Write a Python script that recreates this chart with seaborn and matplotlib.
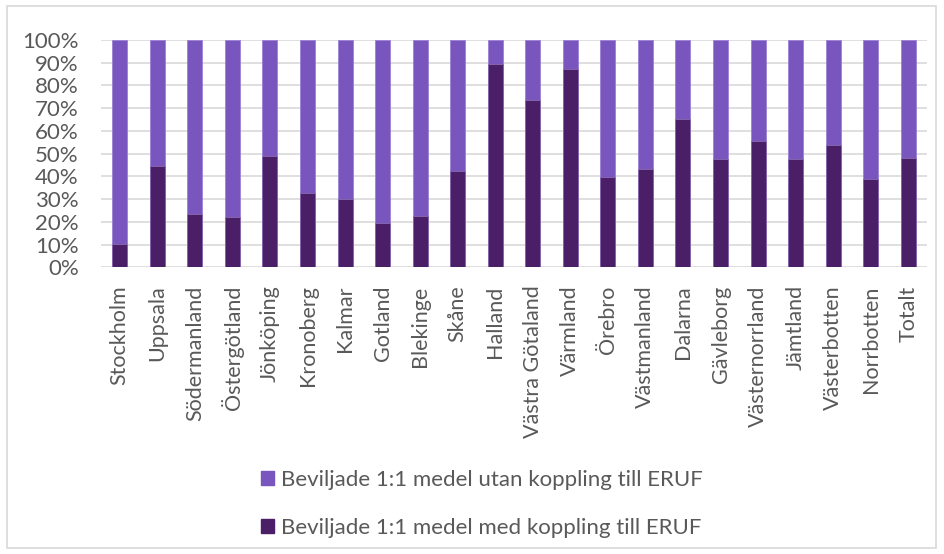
import matplotlib
matplotlib.use("Agg")
import matplotlib.pyplot as plt
import matplotlib.patches as mpatches
import seaborn as sns
import pandas as pd
import numpy as np
from matplotlib.ticker import FuncFormatter

regions = ["Stockholm", "Uppsala", "Södermanland", "Östergötland", "Jönköping",
           "Kronoberg", "Kalmar", "Gotland", "Blekinge", "Skåne", "Halland",
           "Västra Götaland", "Värmland", "Örebro", "Västmanland", "Dalarna",
           "Gävleborg", "Västernorrland", "Jämtland", "Västerbotten", "Norrbotten",
           "Totalt"]
med_eruf = [10.3, 44.7, 23.6, 22.3, 49.1, 32.8, 30.1, 19.6, 22.7, 42.5, 89.6,
            73.6, 87.1, 39.9, 43.1, 65.4, 47.8, 55.7, 47.8, 53.7, 39.0, 48.1]
utan_eruf = [100 - v for v in med_eruf]

label_utan = "Beviljade 1:1 medel utan koppling till ERUF"
label_med = "Beviljade 1:1 medel med koppling till ERUF"
c_light = "#7856BD"
c_dark = "#4A1F67"
txt = "#595959"

sns.set_theme(style="white")
plt.rcParams['font.family'] = ['Lato', 'DejaVu Sans']

df = pd.DataFrame({"region": regions, "med": med_eruf, "utan": utan_eruf})
df["total"] = df["med"] + df["utan"]

fig = plt.figure(figsize=(9.44, 5.54), dpi=100)
ax = fig.add_axes([0.107, 0.5175, 0.875, 0.4105])

sns.barplot(data=df, x="region", y="total", color=c_light, width=0.4,
            edgecolor="#9C82D6", linewidth=0.6, ax=ax, saturation=1, zorder=3)
sns.barplot(data=df, x="region", y="med", color=c_dark, width=0.4,
            edgecolor="#8A6AAE", linewidth=0.6, ax=ax, saturation=1, zorder=4)

ax.set_ylim(0, 100)
ax.set_xlim(-0.5, len(regions) - 0.5)
ax.set_yticks(np.arange(0, 101, 10))
ax.yaxis.set_major_formatter(FuncFormatter(lambda v, p: f"{int(v)}%"))
ax.grid(axis="y", color="#D9D9D9", linewidth=1.2, zorder=0)
ax.set_axisbelow(True)
for s in ax.spines.values():
    s.set_visible(False)
ax.set_xlabel("")
ax.set_ylabel("")
ax.tick_params(axis="y", labelsize=16, colors=txt, length=0, pad=16)
ax.tick_params(axis="x", labelsize=15.5, colors=txt, length=0, pad=13)
plt.setp(ax.get_xticklabels(), rotation=90)

handles = [mpatches.Patch(color=c_light, label=label_utan),
           mpatches.Patch(color=c_dark, label=label_med)]
leg = fig.legend(handles=handles, loc="center", bbox_to_anchor=(0.51, 0.09),
                 ncol=1, frameon=False, fontsize=16, handlelength=0.6,
                 handleheight=0.6, handletextpad=0.3, labelspacing=1.25,
                 labelcolor=txt)

fig.patches.append(mpatches.Rectangle((7 / 944, 6 / 554), 929 / 944, 542 / 554,
                                      transform=fig.transFigure, fill=False,
                                      edgecolor="#D9D9D9", linewidth=1.2))

fig.savefig("out.png", dpi=100)
